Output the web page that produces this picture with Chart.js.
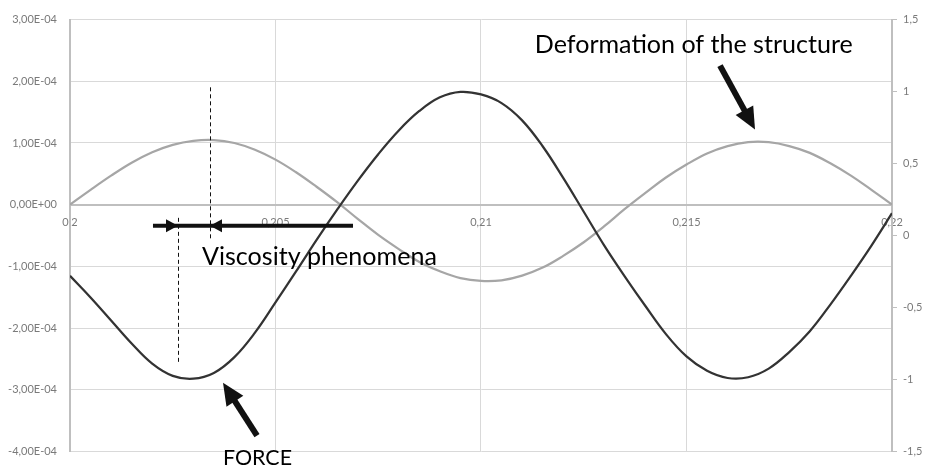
<!DOCTYPE html>
<html>
<head>
<meta charset="utf-8">
<script src="https://cdn.jsdelivr.net/npm/chart.js@4.4.1/dist/chart.umd.min.js"></script>
<style>
  html, body { margin: 0; padding: 0; background: #ffffff; }
  #wrap { width: 936px; height: 471px; position: relative; }
</style>
</head>
<body>
<div id="wrap"><canvas id="c"></canvas></div>
<script>
// ---- Data ----
const xValues = [0.2, 0.2005, 0.201, 0.2015, 0.202, 0.2025, 0.203, 0.2035, 0.204, 0.2045,
  0.205, 0.2055, 0.206, 0.2065, 0.207, 0.2075, 0.208, 0.2085, 0.209, 0.2095,
  0.21, 0.2105, 0.211, 0.2115, 0.212, 0.2125, 0.213, 0.2135, 0.214, 0.2145,
  0.215, 0.2155, 0.216, 0.2165, 0.217, 0.2175, 0.218, 0.2185, 0.219, 0.2195, 0.22];

// Deformation of the structure (left axis)
const deformation = [0, 0.24e-4, 0.47e-4, 0.68e-4, 0.85e-4, 0.97e-4, 1.035e-4, 1.048e-4, 1.0e-4, 0.89e-4,
  0.73e-4, 0.525e-4, 0.29e-4, 0.04e-4, -0.23e-4, -0.49e-4, -0.72e-4, -0.93e-4, -1.08e-4, -1.19e-4,
  -1.236e-4, -1.226e-4, -1.15e-4, -1.02e-4, -0.83e-4, -0.61e-4, -0.35e-4, -0.07e-4, 0.19e-4, 0.44e-4,
  0.65e-4, 0.83e-4, 0.95e-4, 1.013e-4, 1.012e-4, 0.95e-4, 0.84e-4, 0.67e-4, 0.47e-4, 0.24e-4, 0];

// Force (right axis)
const force = [-0.28, -0.43, -0.59, -0.75, -0.89, -0.975, -0.995, -0.955, -0.845, -0.675,
  -0.465, -0.25, -0.03, 0.18, 0.38, 0.565, 0.73, 0.865, 0.96, 0.998,
  0.98, 0.92, 0.80, 0.62, 0.40, 0.165, -0.07, -0.285, -0.49, -0.685,
  -0.84, -0.94, -0.99, -0.985, -0.925, -0.81, -0.665, -0.48, -0.28, -0.07, 0.155];

const xTickValues = [0.2, 0.205, 0.21, 0.215, 0.22];
const xTickLabels = ['0,2', '0,205', '0,21', '0,215', '0,22'];
const yLeftTickValues = [-4e-4, -3e-4, -2e-4, -1e-4, 0, 1e-4, 2e-4, 3e-4];
const yLeftTickLabels = ['-4,00E-04', '-3,00E-04', '-2,00E-04', '-1,00E-04', '0,00E+00', '1,00E-04', '2,00E-04', '3,00E-04'];
const yRightTickValues = [-1.5, -1, -0.5, 0, 0.5, 1, 1.5];
const yRightTickLabels = ['-1,5', '-1', '-0,5', '0', '0,5', '1', '1,5'];

// Annotation anchors in data units (x axis, right axis)
const annText = [
  { text: 'Deformation of the structure', x0: 0.21131, x1: 0.21905, y: 1.268 },
  { text: 'Viscosity phenomena', x0: 0.203212, x1: 0.208930, y: -0.205 },
  { text: 'FORCE', x0: 0.203723, x1: 0.205402, y: -1.592 }
];
const bigArrows = [
  { from: [0.215815, 1.180], to: [0.216667, 0.736] },
  { from: [0.204550, -1.391], to: [0.203723, -1.023] }
];
const viscLine = { x0: 0.202019, x1: 0.206886, y: 0.068, tipRight: 0.202628, tipLeft: 0.203406 };
const dashLines = [
  { x: 0.202628, y0: 0.1227, y1: -0.886 },
  { x: 0.203406, y0: 1.0295, y1: -0.027 }
];

// ---- helpers ----
function labelFor(vals, labels, v) {
  const i = vals.findIndex(t => Math.abs(t - v) < Math.abs(vals[1] - vals[0]) * 1e-3);
  return i >= 0 ? labels[i] : '';
}
const FONT = 'Lato, "Open Sans", sans-serif';

function drawArrow(ctx, x1, y1, x2, y2, shaft, headLen, headHalf) {
  const dx = x2 - x1, dy = y2 - y1, L = Math.hypot(dx, dy);
  const ux = dx / L, uy = dy / L;
  const bx = x2 - ux * headLen, by = y2 - uy * headLen;
  ctx.beginPath();
  ctx.lineWidth = shaft;
  ctx.lineCap = 'butt';
  ctx.moveTo(x1, y1);
  ctx.lineTo(bx + ux * 1, by + uy * 1);
  ctx.stroke();
  ctx.beginPath();
  ctx.moveTo(x2, y2);
  ctx.lineTo(bx - uy * headHalf, by + ux * headHalf);
  ctx.lineTo(bx + uy * headHalf, by - ux * headHalf);
  ctx.closePath();
  ctx.fill();
}

const annotationPlugin = {
  id: 'annotations',
  afterDraw(chart) {
    const ctx = chart.ctx;
    const xs = chart.scales.x, ys = chart.scales.y1;
    const X = v => xs.getPixelForValue(v), Y = v => ys.getPixelForValue(v);
    ctx.save();
    ctx.fillStyle = '#111';
    ctx.strokeStyle = '#111';

    ctx.setLineDash([4, 3]);
    ctx.lineWidth = 1;
    dashLines.forEach(d => {
      ctx.beginPath();
      ctx.moveTo(Math.round(X(d.x)) + 0.5, Y(d.y0));
      ctx.lineTo(Math.round(X(d.x)) + 0.5, Y(d.y1));
      ctx.stroke();
    });
    ctx.setLineDash([]);

    const ly = Y(viscLine.y);
    ctx.lineWidth = 4;
    ctx.beginPath();
    ctx.moveTo(X(viscLine.x0), ly);
    ctx.lineTo(X(viscLine.x1), ly);
    ctx.stroke();
    const tr = X(viscLine.tipRight), tl = X(viscLine.tipLeft);
    ctx.beginPath();
    ctx.moveTo(tr, ly); ctx.lineTo(tr - 12, ly - 6.5); ctx.lineTo(tr - 12, ly + 6.5); ctx.closePath(); ctx.fill();
    ctx.beginPath();
    ctx.moveTo(tl, ly); ctx.lineTo(tl + 12, ly - 6.5); ctx.lineTo(tl + 12, ly + 6.5); ctx.closePath(); ctx.fill();

    bigArrows.forEach(a => {
      drawArrow(ctx, X(a.from[0]), Y(a.from[1]), X(a.to[0]), Y(a.to[1]), 6, 22, 10);
    });

    ctx.fillStyle = '#000';
    ctx.textBaseline = 'alphabetic';
    ctx.textAlign = 'left';
    annText.forEach(t => {
      const w = X(t.x1) - X(t.x0);
      ctx.font = '100px ' + FONT;
      const m = ctx.measureText(t.text).width;
      const size = 100 * w / m;
      ctx.font = size.toFixed(2) + 'px ' + FONT;
      ctx.fillText(t.text, X(t.x0), Y(t.y));
    });
    ctx.restore();
  }
};

const gridColor = '#d9d9d9';
const axisColor = '#bfbfbf';
const tickColor = '#7a7a7a';

new Chart(document.getElementById('c'), {
  type: 'line',
  data: {
    datasets: [
      {
        label: 'Force',
        data: xValues.map((x, i) => ({ x: x, y: force[i] })),
        yAxisID: 'y1',
        borderColor: '#333333',
        borderWidth: 2.25,
        pointRadius: 0,
        tension: 0.4,
        fill: false
      },
      {
        label: 'Deformation',
        data: xValues.map((x, i) => ({ x: x, y: deformation[i] })),
        yAxisID: 'y',
        borderColor: '#a6a6a6',
        borderWidth: 2.25,
        pointRadius: 0,
        tension: 0.4,
        fill: false
      }
    ]
  },
  options: {
    responsive: true,
    maintainAspectRatio: false,
    animation: false,
    layout: { padding: { top: 13, bottom: 18, left: 0, right: 0 } },
    plugins: { legend: { display: false }, tooltip: { enabled: false } },
    scales: {
      x: {
        type: 'linear',
        min: 0.2, max: 0.22,
        position: { y: 0 },
        afterBuildTicks: s => { s.ticks = xTickValues.map(v => ({ value: v })); },
        ticks: {
          autoSkip: false, maxRotation: 0, padding: 11,
          color: tickColor, font: { family: FONT, size: 11 },
          callback: v => labelFor(xTickValues, xTickLabels, v)
        },
        grid: { color: gridColor, lineWidth: 1, drawTicks: false },
        border: { color: axisColor, width: 2 }
      },
      y: {
        type: 'linear',
        position: 'left',
        min: -4e-4, max: 3e-4,
        afterBuildTicks: s => { s.ticks = yLeftTickValues.map(v => ({ value: v })); },
        afterFit: s => { s.width = 70; },
        ticks: {
          padding: 13, color: tickColor, font: { family: FONT, size: 11 },
          callback: v => labelFor(yLeftTickValues, yLeftTickLabels, v)
        },
        grid: { color: gridColor, lineWidth: 1, drawTicks: false },
        border: { color: axisColor, width: 2 }
      },
      y1: {
        type: 'linear',
        position: 'right',
        min: -1.5, max: 1.5,
        afterBuildTicks: s => { s.ticks = yRightTickValues.map(v => ({ value: v })); },
        afterFit: s => { s.width = 44; },
        ticks: {
          padding: 6, color: tickColor, font: { family: FONT, size: 11 },
          callback: v => labelFor(yRightTickValues, yRightTickLabels, v)
        },
        grid: { drawOnChartArea: false, drawTicks: true, tickLength: 5, color: axisColor },
        border: { color: axisColor, width: 2 }
      }
    }
  },
  plugins: [annotationPlugin]
});
</script>
</body>
</html>
